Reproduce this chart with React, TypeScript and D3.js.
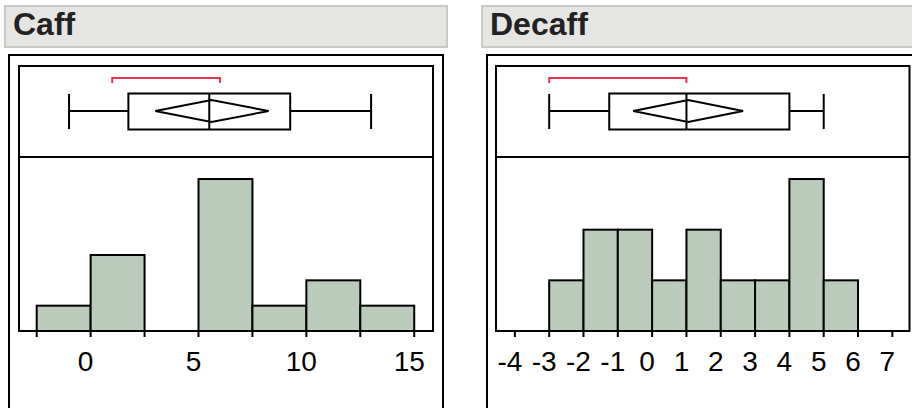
import React from "react";
import * as d3 from "d3";

// ---- data ----
const caffBinEdges = [-2.5, 0, 2.5, 5, 7.5, 10, 12.5, 15];
const caffCounts = [1, 3, 0, 6, 1, 2, 1];
const caffTicks = [-2.5, 0, 2.5, 5, 7.5, 10, 12.5, 15];
const caffTickLabels = [0, 5, 10, 15];
const caffBox = { min: -1, q1: 1.75, median: 5.5, q3: 9.25, max: 13, mean: 5.6, ciLo: 3.0, ciHi: 8.25, shortLo: 1, shortHi: 6 };

const decaffBinEdges = [-3, -2, -1, 0, 1, 2, 3, 4, 5, 6];
const decaffCounts = [1, 2, 2, 1, 2, 1, 1, 3, 1];
const decaffTicks = [-4, -3, -2, -1, 0, 1, 2, 3, 4, 5, 6, 7];
const decaffTickLabels = [-4, -3, -2, -1, 0, 1, 2, 3, 4, 5, 6, 7];
const decaffBox = { min: -3, q1: -1.25, median: 1, q3: 4, max: 5, mean: 1.05, ciLo: -0.55, ciHi: 2.65, shortLo: -3, shortHi: 1 };

type Box = typeof caffBox;

interface PanelProps {
  title: string;
  headerX: number;
  headerW: number;
  outerX: number;
  outerW: number;
  innerX0: number;
  innerX1: number;
  domain: [number, number];
  edges: number[];
  counts: number[];
  ticks: number[];
  labels: number[];
  box: Box;
}

const FONT = "'Liberation Sans', Arial, sans-serif";

function Panel(p: PanelProps) {
  const x = d3.scaleLinear().domain(p.domain).range([p.innerX0, p.innerX1]);
  const maxC = d3.max(p.counts) as number;
  const y = d3.scaleLinear().domain([0, maxC * 1.145]).range([331, 157]);
  const innerTop = 66;
  const base = 331;
  const cy = 111;
  const b = p.box;
  const diamond = `M${x(b.ciLo)},${cy} L${x(b.mean)},${cy - 11} L${x(b.ciHi)},${cy} L${x(b.mean)},${cy + 11} Z`;
  return (
    <g>
      <rect x={p.headerX} y={6} width={p.headerW} height={41} fill="#e5e5e3" stroke="#c9c9c5" strokeWidth={2} />
      <text x={p.headerX + 8} y={35} fontFamily={FONT} fontWeight="bold" fontSize={32} fill="#222">
        {p.title}
      </text>
      <rect x={p.outerX} y={55} width={p.outerW} height={400} fill="white" stroke="black" strokeWidth={2} />
      <rect x={p.innerX0} y={innerTop} width={p.innerX1 - p.innerX0} height={base - innerTop} fill="white" stroke="black" strokeWidth={2} />
      <line x1={p.innerX0} x2={p.innerX1} y1={157} y2={157} stroke="black" strokeWidth={2} />
      {/* histogram */}
      {p.counts.map((c, i) =>
        c > 0 ? (
          <rect
            key={i}
            x={x(p.edges[i])}
            y={y(c)}
            width={x(p.edges[i + 1]) - x(p.edges[i])}
            height={base - y(c)}
            fill="#bacbbc"
            stroke="black"
            strokeWidth={2}
          />
        ) : null
      )}
      <line x1={p.innerX0} x2={p.innerX1} y1={base} y2={base} stroke="black" strokeWidth={2} />
      {/* axis ticks */}
      {p.ticks.map((t) => (
        <line key={t} x1={x(t)} x2={x(t)} y1={base} y2={base + 6} stroke="black" strokeWidth={2} />
      ))}
      {p.labels.map((t) => (
        <text key={t} x={x(t) - 5} y={371} textAnchor="middle" fontFamily={FONT} fontSize={28} fill="black">
          {String(t)}
        </text>
      ))}
      {/* box plot */}
      <line x1={x(b.min)} x2={x(b.q1)} y1={cy} y2={cy} stroke="black" strokeWidth={2} />
      <line x1={x(b.q3)} x2={x(b.max)} y1={cy} y2={cy} stroke="black" strokeWidth={2} />
      <line x1={x(b.min)} x2={x(b.min)} y1={94} y2={129} stroke="black" strokeWidth={2} />
      <line x1={x(b.max)} x2={x(b.max)} y1={94} y2={129} stroke="black" strokeWidth={2} />
      <rect x={x(b.q1)} y={93.5} width={x(b.q3) - x(b.q1)} height={36} fill="white" stroke="black" strokeWidth={2} />
      <path d={diamond} fill="none" stroke="black" strokeWidth={2} />
      <line x1={x(b.median)} x2={x(b.median)} y1={93.5} y2={129.5} stroke="black" strokeWidth={2} />
      {/* shortest half bracket */}
      <path
        d={`M${x(b.shortLo)},83 L${x(b.shortLo)},78 L${x(b.shortHi)},78 L${x(b.shortHi)},83`}
        fill="none"
        stroke="#e8364c"
        strokeWidth={2}
      />
    </g>
  );
}

export default function App() {
  return (
    <svg width={912} height={408} style={{ position: "absolute", left: 0, top: 0, background: "white" }}>
      <rect x={0} y={0} width={912} height={408} fill="white" />
      <Panel
        title="Caff"
        headerX={5}
        headerW={442}
        outerX={9}
        outerW={434}
        innerX0={19}
        innerX1={433}
        domain={[-3.32, 15.87]}
        edges={caffBinEdges}
        counts={caffCounts}
        ticks={caffTicks}
        labels={caffTickLabels}
        box={caffBox}
      />
      <Panel
        title="Decaff"
        headerX={482}
        headerW={440}
        outerX={487}
        outerW={434}
        innerX0={496}
        innerX1={909.5}
        domain={[-4.55, 7.5]}
        edges={decaffBinEdges}
        counts={decaffCounts}
        ticks={decaffTicks}
        labels={decaffTickLabels}
        box={decaffBox}
      />
    </svg>
  );
}
